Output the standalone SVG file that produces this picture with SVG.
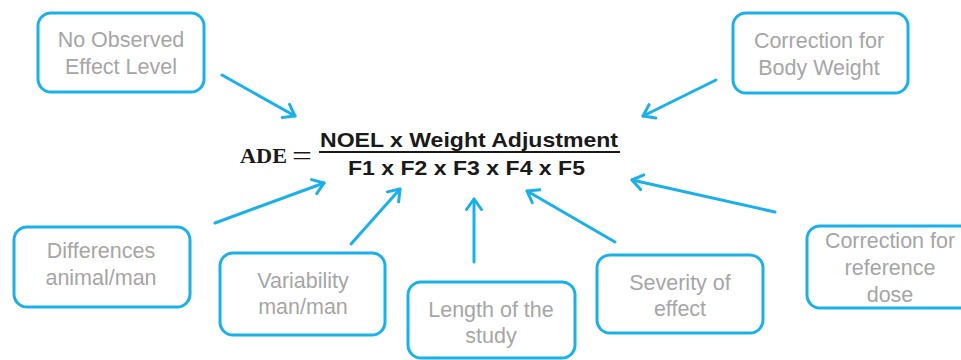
<svg xmlns="http://www.w3.org/2000/svg" width="961" height="360" viewBox="0 0 961 360">
<defs>
<marker id="ah" markerUnits="userSpaceOnUse" markerWidth="22" markerHeight="22" refX="12" refY="9" orient="auto" viewBox="0 0 22 18">
<path d="M1.5,1.5 L12,9 L1.5,16.5" fill="none" stroke="#1ab0ea" stroke-width="3" stroke-linecap="round" stroke-linejoin="round"/>
</marker>
<style>
.box{fill:#ffffff;stroke:#1ab0ea;stroke-width:3}
.lbl{font-family:"Liberation Sans",Arial,sans-serif;font-size:21.5px;fill:#a6a6a6;text-anchor:middle}
.conn{stroke:#1ab0ea;stroke-width:3;fill:none;stroke-linecap:round;marker-end:url(#ah)}
.f{font-family:"Liberation Sans",Arial,sans-serif;font-weight:bold;font-size:20.5px;fill:#1a1a1a}
</style>
</defs>
<rect width="961" height="360" fill="#ffffff"/>
<g id="connectors">
<line class="conn" x1="222" y1="75" x2="295" y2="116"/>
<line class="conn" x1="716" y1="80" x2="643" y2="116"/>
<line class="conn" x1="215" y1="223" x2="324" y2="183"/>
<line class="conn" x1="351" y1="244" x2="400" y2="189"/>
<line class="conn" x1="474" y1="262" x2="474" y2="199"/>
<line class="conn" x1="615" y1="242" x2="527" y2="191"/>
<line class="conn" x1="775" y1="212" x2="632" y2="180"/>
</g>
<g id="formula">
<text x="240" y="163" textLength="47" lengthAdjust="spacingAndGlyphs" style="font-family:'Liberation Serif','Times New Roman',serif;font-weight:bold;font-size:21px;fill:#1a1a1a">ADE</text>
<text x="292" y="165" textLength="20" lengthAdjust="spacingAndGlyphs" style="font-family:'Liberation Serif','Times New Roman',serif;font-size:28px;fill:#1a1a1a">=</text>
<text class="f" x="320" y="147" textLength="298" lengthAdjust="spacingAndGlyphs">NOEL x Weight Adjustment</text>
<line x1="319" y1="152" x2="620" y2="152" stroke="#1a1a1a" stroke-width="2"/>
<text class="f" x="348" y="175" textLength="237" lengthAdjust="spacingAndGlyphs">F1 x F2 x F3 x F4 x F5</text>
</g>
<g id="noel">
<rect class="box" x="38" y="13" width="166" height="79" rx="13"/>
<text class="lbl" x="121" y="47">No Observed</text>
<text class="lbl" x="121" y="74">Effect Level</text>
</g>
<g id="bodyweight">
<rect class="box" x="733" y="13" width="175" height="80" rx="13"/>
<text class="lbl" x="819" y="48">Correction for</text>
<text class="lbl" x="819" y="75">Body Weight</text>
</g>
<g id="animalman">
<rect class="box" x="14" y="227" width="176" height="80" rx="13"/>
<text class="lbl" x="101" y="258">Differences</text>
<text class="lbl" x="101" y="285">animal/man</text>
</g>
<g id="variability">
<rect class="box" x="220" y="253" width="165" height="82" rx="13"/>
<text class="lbl" x="303" y="288">Variability</text>
<text class="lbl" x="303" y="314">man/man</text>
</g>
<g id="length">
<rect class="box" x="408" y="282" width="167" height="76" rx="13"/>
<text class="lbl" x="491" y="317">Length of the</text>
<text class="lbl" x="491" y="343">study</text>
</g>
<g id="severity">
<rect class="box" x="597" y="255" width="166" height="78" rx="13"/>
<text class="lbl" x="680" y="290">Severity of</text>
<text class="lbl" x="680" y="316">effect</text>
</g>
<g id="refdose">
<rect class="box" x="807" y="226" width="166" height="82" rx="13"/>
<text class="lbl" x="890" y="248">Correction for</text>
<text class="lbl" x="890" y="275">reference</text>
<text class="lbl" x="890" y="302">dose</text>
</g>
</svg>
